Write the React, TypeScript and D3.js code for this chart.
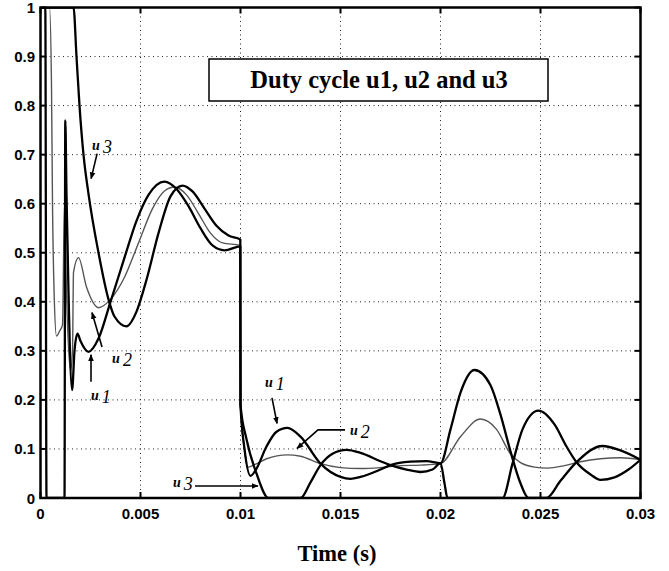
import React from "react";
import * as d3 from "d3";

// Duty cycle traces: [time (s), duty]
const u1: [number, number][] = [
  [0, 1], [0.00024, 1], [0.0003, 0], [0.0012, 0], [0.00124, 0.77], [0.0013, 0.62],
  [0.0014, 0.42], [0.00158, 0.22], [0.0017, 0.3], [0.00185, 0.335], [0.002, 0.32],
  [0.0024, 0.298], [0.0029, 0.325], [0.0035, 0.4], [0.0042, 0.49], [0.0048, 0.565],
  [0.0054, 0.618], [0.0062, 0.645], [0.0068, 0.63], [0.0074, 0.595], [0.008, 0.55],
  [0.0086, 0.515], [0.0092, 0.505], [0.00999, 0.513], [0.01, 0.19], [0.0102, 0.1],
  [0.0105, 0.045], [0.0108, 0.06], [0.0113, 0.105], [0.0118, 0.135], [0.01235, 0.143],
  [0.013, 0.125], [0.014, 0.07], [0.015, 0.043], [0.0155, 0.039], [0.016, 0.043],
  [0.017, 0.058], [0.0175, 0.067], [0.0185, 0.074], [0.0193, 0.075], [0.02, 0.071],
  [0.0205, 0.14], [0.021, 0.215], [0.0217, 0.261], [0.0225, 0.23], [0.023, 0.17],
  [0.0235, 0.095], [0.024, 0.03], [0.0244, 0], [0.0253, 0], [0.026, 0.035],
  [0.0268, 0.073], [0.0281, 0.106], [0.029, 0.097], [0.03, 0.078],
];

const u2: [number, number][] = [
  [0, 1], [0.00045, 1], [0.00055, 0.84], [0.0006, 0.6], [0.00068, 0.42], [0.0008, 0.33],
  [0.00095, 0.34], [0.0011, 0.353], [0.0012, 0.6], [0.0013, 0.42], [0.0015, 0.26],
  [0.0016, 0.3], [0.00165, 0.46], [0.0019, 0.49], [0.0023, 0.43], [0.0029, 0.388],
  [0.0035, 0.405], [0.0042, 0.45], [0.0049, 0.52], [0.0056, 0.59], [0.0062, 0.626],
  [0.0067, 0.634], [0.0073, 0.618], [0.0079, 0.58], [0.0085, 0.54], [0.0091, 0.52],
  [0.00999, 0.515], [0.01, 0.19], [0.0102, 0.1], [0.01035, 0.063], [0.0107, 0.068],
  [0.0113, 0.08], [0.01235, 0.088], [0.013, 0.085], [0.014, 0.07], [0.015, 0.062],
  [0.016, 0.06], [0.017, 0.062], [0.018, 0.066], [0.019, 0.067], [0.02, 0.07],
  [0.021, 0.125], [0.022, 0.161], [0.0228, 0.14], [0.0235, 0.09], [0.024, 0.072],
  [0.0247, 0.063], [0.02535, 0.061], [0.0262, 0.066], [0.027, 0.074], [0.028, 0.08],
  [0.029, 0.082], [0.03, 0.078],
];

const u3: [number, number][] = [
  [0, 1], [0.00165, 1], [0.0018, 0.9], [0.00195, 0.8], [0.00215, 0.7], [0.0024, 0.62],
  [0.0029, 0.5], [0.0034, 0.405], [0.0037, 0.37], [0.0043, 0.35], [0.0048, 0.38],
  [0.0053, 0.445], [0.0059, 0.54], [0.0065, 0.615], [0.0071, 0.637], [0.0076, 0.625],
  [0.0082, 0.59], [0.0088, 0.555], [0.0094, 0.535], [0.00999, 0.527], [0.01, 0.19],
  [0.0103, 0.12], [0.0108, 0.05], [0.0114, 0], [0.013, 0], [0.0135, 0.032],
  [0.014, 0.067], [0.0146, 0.09], [0.0153, 0.098], [0.016, 0.092], [0.017, 0.075],
  [0.0175, 0.067], [0.0183, 0.058], [0.019, 0.053], [0.0196, 0.058], [0.02, 0.071],
  [0.0202, 0.03], [0.02035, 0], [0.0231, 0], [0.0236, 0.07], [0.0241, 0.14],
  [0.0249, 0.178], [0.0257, 0.15], [0.0263, 0.105], [0.0268, 0.073], [0.0275, 0.048],
  [0.028, 0.037], [0.0287, 0.042], [0.0294, 0.058], [0.03, 0.078],
];

const xTicks = [0, 0.005, 0.01, 0.015, 0.02, 0.025, 0.03];
const xTickLabels = ["0", "0.005", "0.01", "0.015", "0.02", "0.025", "0.03"];
const yTicks = [0, 0.1, 0.2, 0.3, 0.4, 0.5, 0.6, 0.7, 0.8, 0.9, 1];
const yTickLabels = ["0", "0.1", "0.2", "0.3", "0.4", "0.5", "0.6", "0.7", "0.8", "0.9", "1"];

const titleText = "Duty cycle u1, u2 and u3";
const xLabel = "Time (s)";

// Curve callouts in data coordinates: label anchor and arrow polyline (last point = tip)
const callouts = [
  { name: "3", at: [0.00258, 0.71], arrow: [[0.00283, 0.702], [0.00253, 0.651]] },
  { name: "2", at: [0.00358, 0.2755], arrow: [[0.003075, 0.308], [0.002575, 0.378]] },
  { name: "1", at: [0.002525, 0.2], arrow: [[0.002525, 0.237], [0.002525, 0.292]] },
  { name: "1", at: [0.011225, 0.2265], arrow: [[0.011575, 0.204], [0.011825, 0.152]] },
  { name: "2", at: [0.015475, 0.1286], arrow: [[0.015225, 0.1388], [0.013875, 0.1388], [0.012825, 0.101]] },
  { name: "3", at: [0.006625, 0.0224], arrow: [[0.007725, 0.0245], [0.010875, 0.0245]] },
];

const W = 669;
const H = 571;
const left = 40.5;
const right = 640.5;
const top = 7.5;
const bottom = 498;

export default function App() {
  const x = d3.scaleLinear().domain([0, 0.03]).range([left, right]);
  const y = d3.scaleLinear().domain([0, 1]).range([bottom, top]);

  const line = d3
    .line<[number, number]>()
    .x((d) => x(d[0]))
    .y((d) => y(d[1]))
    .curve(d3.curveMonotoneX);

  const arrowLine = d3
    .line<number[]>()
    .x((d) => x(d[0]))
    .y((d) => y(d[1]));

  const sans = "'Liberation Sans', Arial, sans-serif";
  const serif = "'Liberation Serif', 'Times New Roman', serif";
  const tickLen = 6;

  return (
    <svg
      width={W}
      height={H}
      viewBox={`0 0 ${W} ${H}`}
      style={{ position: "absolute", left: 0, top: 0, background: "#fff" }}
    >
      <defs>
        <clipPath id="plotClip">
          <rect x={left} y={top} width={right - left} height={bottom - top} />
        </clipPath>
        <marker id="head" viewBox="0 0 10 10" refX="9" refY="5" markerWidth="7" markerHeight="7" orient="auto" markerUnits="userSpaceOnUse">
          <path d="M0,1 L10,5 L0,9 Z" fill="#000" />
        </marker>
      </defs>

      <rect x={0} y={0} width={W} height={H} fill="#fff" />

      {/* dotted grid */}
      <g stroke="#222" strokeWidth={1} strokeDasharray="1 3.5">
        {xTicks.slice(1, -1).map((t) => (
          <line key={`gx${t}`} x1={x(t)} x2={x(t)} y1={top} y2={bottom} />
        ))}
        {yTicks.slice(1, -1).map((t) => (
          <line key={`gy${t}`} x1={left} x2={right} y1={y(t)} y2={y(t)} />
        ))}
      </g>

      {/* traces */}
      <g clipPath="url(#plotClip)" fill="none" strokeLinejoin="round">
        <path d={line(u2) ?? ""} stroke="#555" strokeWidth={1.4} />
        <path d={line(u1) ?? ""} stroke="#000" strokeWidth={2.3} />
        <path d={line(u3) ?? ""} stroke="#000" strokeWidth={2.3} />
      </g>

      {/* title box */}
      <rect x={209} y={59} width={339} height={42} fill="#fff" stroke="#000" strokeWidth={1.5} />
      <text x={379} y={88} textAnchor="middle" fontFamily={serif} fontWeight="bold" fontSize={24.5}>
        {titleText}
      </text>

      {/* frame and inward ticks */}
      <rect x={left} y={top} width={right - left} height={bottom - top} fill="none" stroke="#000" strokeWidth={2.5} />
      <g stroke="#000" strokeWidth={2}>
        {xTicks.map((t) => (
          <g key={`tx${t}`}>
            <line x1={x(t)} x2={x(t)} y1={bottom} y2={bottom - tickLen} />
            <line x1={x(t)} x2={x(t)} y1={top} y2={top + tickLen} />
          </g>
        ))}
        {yTicks.map((t) => (
          <g key={`ty${t}`}>
            <line x1={left} x2={left + tickLen} y1={y(t)} y2={y(t)} />
            <line x1={right} x2={right - tickLen} y1={y(t)} y2={y(t)} />
          </g>
        ))}
      </g>

      {/* tick labels */}
      <g fontFamily={sans} fontWeight="bold" fontSize={15} fill="#000">
        {xTicks.map((t, i) => (
          <text key={`lx${t}`} x={x(t)} y={519} textAnchor="middle">
            {xTickLabels[i]}
          </text>
        ))}
        {yTicks.map((t, i) => (
          <text key={`ly${t}`} x={35} y={y(t) + 5.5} textAnchor="end">
            {yTickLabels[i]}
          </text>
        ))}
      </g>

      <text x={337} y={561} textAnchor="middle" fontFamily={serif} fontWeight="bold" fontSize={22.5}>
        {xLabel}
      </text>

      {/* callouts */}
      <g fontFamily={serif} fontWeight="bold" fontStyle="italic" fill="#000">
        {callouts.map((c, i) => (
          <g key={`c${i}`}>
            <path
              d={arrowLine(c.arrow) ?? ""}
              fill="none"
              stroke="#000"
              strokeWidth={1.6}
              markerEnd="url(#head)"
            />
            <text x={x(c.at[0])} y={y(c.at[1])}>
              <tspan fontSize={14}>u</tspan>
              <tspan fontSize={18} dx={3} dy={3} fontWeight="normal">
                {c.name}
              </tspan>
            </text>
          </g>
        ))}
      </g>
    </svg>
  );
}
